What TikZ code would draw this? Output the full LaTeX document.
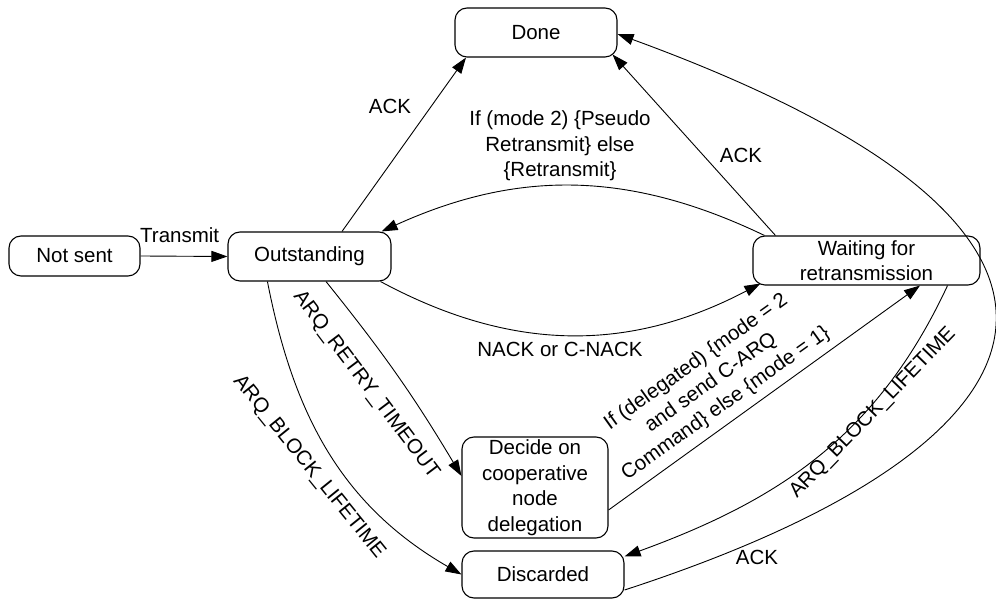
\documentclass[tikz,border=0pt]{standalone}
\usepackage{fontspec}
\setmainfont{Liberation Sans}
\usetikzlibrary{arrows.meta}
\begin{document}
\begin{tikzpicture}[x=1pt,y=1pt,
  every node/.style={font=\fontsize{20.5}{25.5}\selectfont},
  stbox/.style={draw, rounded corners=12pt, line width=1.1pt, align=center, inner sep=0pt},
  lbl/.style={inner sep=0pt, align=center},
  link/.style={line width=0.9pt, -{Triangle[length=16pt,width=11pt]}},
]
\useasboundingbox (0,0) rectangle (996,602);

% states
\node[stbox, minimum width=131pt, minimum height=40pt] (notsent) at (74.5,346) {Not sent};
\node[stbox, minimum width=163pt, minimum height=49pt] (out) at (309.5,345.5) {Outstanding};
\node[stbox, minimum width=162pt, minimum height=49pt] (done) at (536,569.5) {Done};
\node[stbox, minimum width=227pt, minimum height=49pt] (wait) at (866.5,341.5) {Waiting for\\retransmission};
\node[stbox, minimum width=146pt, minimum height=101pt] (decide) at (535,114.5) {Decide on\\cooperative\\node\\delegation};
\node[stbox, minimum width=162pt, minimum height=47pt] (disc) at (543,27.5) {Discarded};

% transitions
\draw[link] (notsent.east) -- node[lbl, above=13pt, pos=0.45] {Transmit} (out.west);

\draw[link] ([xshift=32.5pt]out.north) -- ([xshift=-70pt]done.south);
\node[lbl] (ackA) at (390,495.5) {ACK};

\draw[link] ([xshift=23pt]wait.north west) -- ([xshift=-5pt,yshift=3pt]done.south east);
\node[lbl] (ackB) at (741,447) {ACK};

\draw[link] ([xshift=12pt]wait.north west) to[bend right=25] ([xshift=-10pt]out.north east);
\node[lbl] (retx) at (560,456) {If (mode 2) \{Pseudo\\Retransmit\} else\\\{Retransmit\}};

\draw[link] ([xshift=-11pt]out.south east) to[bend right=28] ([xshift=8pt,yshift=2pt]wait.south west);
\node[lbl] (nack) at (560,252.5) {NACK or C-NACK};

\draw[link] ([xshift=16.5pt]out.south) to[bend left=4] ([yshift=11.5pt]decide.west);
\node[lbl, rotate=-53] (retry) at (366,217) {ARQ\_RETRY\_TIMEOUT};

\draw[link] ([xshift=40pt]out.south west) to[out=-79, in=150] (disc.west);
\node[lbl, rotate=-51] (lifeA) at (309,135) {ARQ\_BLOCK\_LIFETIME};

\draw[link] ([yshift=-22.5pt]decide.east) -- ([xshift=53.5pt]wait.south);
\node[lbl, rotate=35.5] (deleg) at (711,219) {If (delegated) \{mode = 2\\and send C-ARQ\\Command\} else \{mode = 1\}};

\draw[link] ([xshift=-33pt]wait.south east) to[out=-115, in=20] ([yshift=-6pt]disc.north east);
\node[lbl, rotate=46] (lifeB) at (873,189) {ARQ\_BLOCK\_LIFETIME};

\draw[link] ([yshift=-15.5pt]disc.east) .. controls (1052,151) and (1181,362) .. ([yshift=-1.5pt]done.east);
\node[lbl] (ackC) at (757,44.5) {ACK};
\end{tikzpicture}
\end{document}
